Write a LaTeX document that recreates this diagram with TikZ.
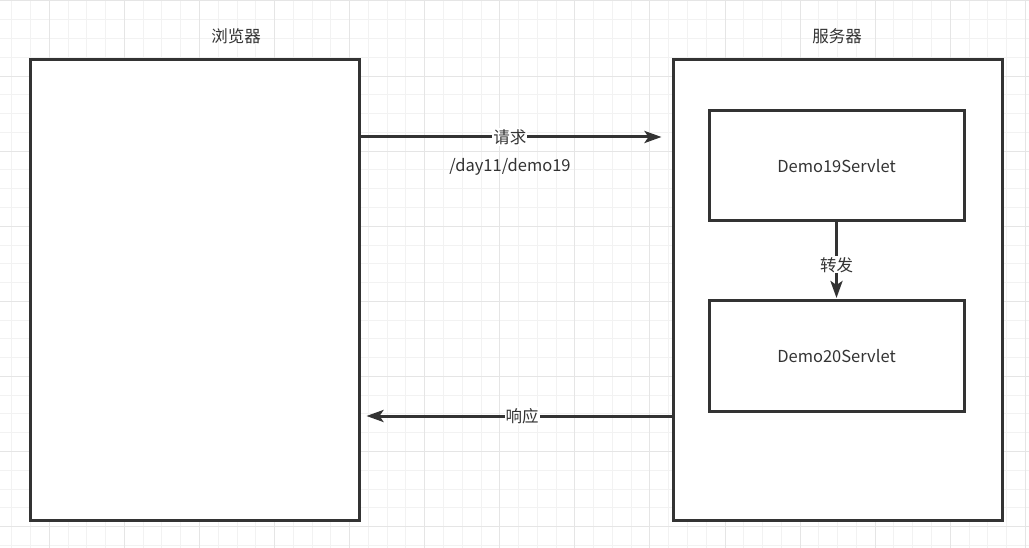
\documentclass[tikz,border=0pt]{standalone}
\usepackage{fontspec}
\setmainfont{Noto Sans CJK SC}
\usetikzlibrary{arrows.meta}
\definecolor{ink}{HTML}{333333}
\definecolor{gridmin}{HTML}{F2F2F2}
\definecolor{gridmaj}{HTML}{E5E5E5}
\tikzset{
  box/.style={draw=ink, line width=3pt, fill=white, inner sep=0pt},
  link/.style={draw=ink, line width=3pt, -{Stealth[length=17pt,width=12pt,inset=4pt]}},
  lbl/.style={text=ink, font=\fontsize{16.5}{19}\selectfont, inner sep=1pt},
}
\begin{document}
\begin{tikzpicture}[x=1pt, y=-1pt]
      \useasboundingbox (0,0) rectangle (1029,548);
      \fill[white] (0,0) rectangle (1029,548);
      % grid
      \foreach \k in {0,...,54}
        \draw[gridmin, line width=1pt] ({11.8+18.77*\k},0) -- ({11.8+18.77*\k},548);
      \foreach \k in {0,...,29}
        \draw[gridmin, line width=1pt] (0,{1+18.77*\k}) -- (1029,{1+18.77*\k});
      \foreach \k in {0,...,13}
        \draw[gridmaj, line width=1pt] ({49.3+75.08*\k},0) -- ({49.3+75.08*\k},548);
      \foreach \k in {0,...,7}
        \draw[gridmaj, line width=1pt] (0,{1+75.08*\k}) -- (1029,{1+75.08*\k});

      \node[box, minimum width=329pt, minimum height=460pt] (browser) at (194.5,290){};
      \node[box, minimum width=329pt, minimum height=460pt] (server) at (837.5,290){};
      \node[box, lbl, minimum width=255pt, minimum height=110pt] (demo19) at (836.5,166){Demo19Servlet};
      \node[box, lbl, minimum width=255pt, minimum height=110pt] (demo20) at (836.5,356){Demo20Servlet};

      \node[lbl] (browsertitle) at (236,36){浏览器};
      \node[lbl] (servertitle) at (837,36){服务器};

      \draw[link, shorten >=10pt] (browser.east |- 0,137) -- (server.west |- 0,137)
        node[pos=0.48, lbl, fill=white]{请求};
      \node[lbl] (path) at (510,167){/day11/demo19};
      \draw[link, shorten >=1.5pt] (demo19.south) -- (demo20.north)
        node[pos=0.55, lbl, fill=white]{转发};
      \draw[link, shorten >=6pt] (server.west |- 0,416) -- (browser.east |- 0,416)
        node[pos=0.48, lbl, fill=white]{响应};

    \end{tikzpicture}
\end{document}
